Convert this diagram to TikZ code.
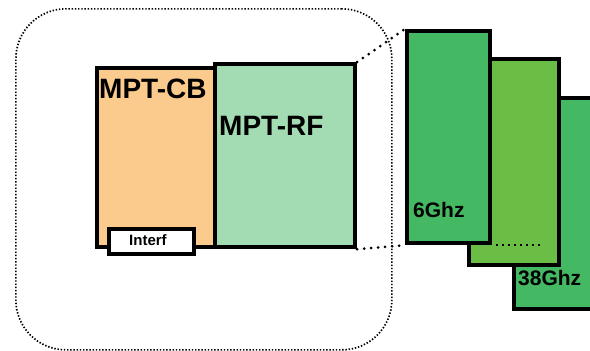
\documentclass[tikz,border=0pt]{standalone}
\usepackage{fontspec}
\setmainfont{Liberation Sans}
\begin{document}
\begin{tikzpicture}[x=1pt,y=-1pt,
  blk/.style={draw=black,line width=4.2pt,inner sep=0pt,anchor=north west},
  lbl/.style={inner sep=0pt,anchor=base west,text=black},
  conn/.style={line width=3pt,dash pattern=on 0pt off 7pt,line cap=round}]
\useasboundingbox (0,0) rectangle (590,351);
\clip (0,0) rectangle (590,351);
\definecolor{cborange}{HTML}{FBCB8E}
\definecolor{rfgreen}{HTML}{A3DBB3}
\definecolor{dkgreen}{HTML}{45B863}
\definecolor{mdgreen}{HTML}{6ABD45}
% enclosure
\node[draw=black,line width=1.7pt,dash pattern=on 1.4pt off 1.8pt,rounded corners=50pt,inner sep=0pt,anchor=north west,minimum width=376pt,minimum height=341pt] (encl) at (15,8) {};
% green frequency boxes
\node[blk,fill=dkgreen,minimum width=88pt,minimum height=211pt] (g3) at (512,96) {};
\node[blk,fill=mdgreen,minimum width=90pt,minimum height=206pt] (g2) at (467,57) {};
\node[blk,fill=dkgreen,minimum width=83pt,minimum height=212pt] (g1) at (405,29) {};
% modules
\node[blk,fill=cborange,minimum width=118pt,minimum height=179pt] (cb) at (95,66) {};
\node[blk,fill=rfgreen,minimum width=140pt,minimum height=183pt] (rf) at (213,62) {};
\node[blk,fill=white,minimum width=85pt,minimum height=25pt] (itf) at (107,227) {};
% connectors
\draw[conn] (rf.north east) -- (g1.north west);
\draw[conn] (rf.south east) -- (g1.south west);
% labels
\node[lbl,font=\bfseries\fontsize{28}{30}\selectfont] (tcb) at (99,98) {MPT-CB};
\node[lbl,font=\bfseries\fontsize{28}{30}\selectfont] (trf) at (219,135) {MPT-RF};
\node[lbl,font=\bfseries\fontsize{15}{17}\selectfont] (titf) at (129,245) {Interf};
\node[lbl,font=\bfseries\fontsize{21}{23}\selectfont] (t6) at (413,217) {6Ghz};
\node[lbl,font=\bfseries\fontsize{21}{23}\selectfont] (t38) at (518,285) {38Ghz};
\coordinate (d1) at (496,245);
\coordinate (d2) at (543,245);
\draw[line width=2pt,dash pattern=on 2pt off 4pt] (d1) -- (d2);
\end{tikzpicture}
\end{document}
